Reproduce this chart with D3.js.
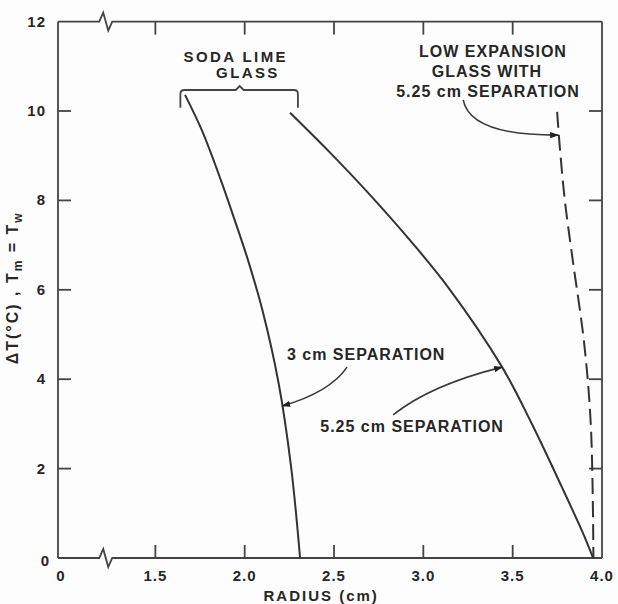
<!DOCTYPE html>
<html>
<head>
<meta charset="utf-8">
<script src="https://cdn.jsdelivr.net/npm/d3@7/dist/d3.min.js"></script>
<style>
  body { margin: 0; background: #fdfdfd; }
  svg text { font-family: "Liberation Sans", Arial, sans-serif; fill: #262626; }
</style>
</head>
<body>
<svg id="chart" width="618" height="604"></svg>
<script>
// Axis ticks
const radiusTicks = [1.5, 2.0, 2.5, 3.0, 3.5, 4.0];
const radiusTickLabels = ["1.5", "2.0", "2.5", "3.0", "3.5", "4.0"];
const deltaTicks = [2, 4, 6, 8, 10, 12];
const deltaTickLabels = ["2", "4", "6", "8", "10", "12"];

// Soda lime glass, 3 cm separation
const soda3Radius = [1.666, 1.760, 1.866, 1.944, 2.018, 2.099, 2.190, 2.260, 2.310];
const soda3Delta  = [10.36, 9.57, 8.46, 7.56, 6.67, 5.55, 3.91, 2.03, 0];

// Soda lime glass, 5.25 cm separation
const soda525Radius = [2.254, 2.475, 2.677, 2.925, 3.138, 3.441, 3.605, 3.775, 3.893, 3.950];
const soda525Delta  = [9.96, 9.08, 8.23, 7.11, 6.06, 4.27, 3.02, 1.59, 0.56, 0];

// Low expansion glass, 5.25 cm separation
const lowExpRadius = [3.749, 3.762, 3.792, 3.836, 3.900, 3.938, 3.952];
const lowExpDelta  = [9.98, 9.28, 8.0, 6.67, 4.81, 2.93, 0];

const svg = d3.select("#chart");
const ink = "#333";

// The radius axis is broken between 0 and 1.5
const x = d3.scaleLinear().domain([0.955, 4.0]).range([58, 602]);
const y = d3.scaleLinear().domain([0, 12]).range([558, 21.6]);
const L = x.range()[0], R = x.range()[1], T = y(12), B = y(0);
const xb = x(1.225);

const defs = svg.append("defs");
defs.append("marker")
  .attr("id", "head")
  .attr("viewBox", "0 0 10 10")
  .attr("refX", 9).attr("refY", 5)
  .attr("markerWidth", 9).attr("markerHeight", 9)
  .attr("markerUnits", "userSpaceOnUse")
  .attr("orient", "auto")
  .append("path").attr("d", "M0,1.5 L10,5 L0,8.5 Z").attr("fill", "#222");

// Frame with break marks on top and bottom edges
const frame = svg.append("g").attr("fill", "none").attr("stroke", "#444").attr("stroke-width", 1.8);
function brokenEdge(yy) {
  return `M${L},${yy} H${xb - 7} L${xb - 3},${yy - 9} L${xb + 2},${yy + 9} L${xb + 6},${yy} H${R}`;
}
frame.append("path").attr("d", brokenEdge(T));
frame.append("path").attr("d", brokenEdge(B));
frame.append("line").attr("x1", L).attr("x2", L).attr("y1", T).attr("y2", B);
frame.append("line").attr("x1", R).attr("x2", R).attr("y1", T).attr("y2", B);

// Inward tick marks on all four sides
const tickLen = 13;
const innerR = radiusTicks.slice(0, -1);
const innerD = deltaTicks.slice(0, -1);
frame.selectAll(".tb").data(innerR).join("line")
  .attr("x1", d => x(d)).attr("x2", d => x(d)).attr("y1", B).attr("y2", B - tickLen);
frame.selectAll(".tt").data(innerR).join("line")
  .attr("x1", d => x(d)).attr("x2", d => x(d)).attr("y1", T).attr("y2", T + tickLen);
frame.selectAll(".tl").data(innerD).join("line")
  .attr("x1", L).attr("x2", L + tickLen).attr("y1", d => y(d)).attr("y2", d => y(d));
frame.selectAll(".tr").data(innerD).join("line")
  .attr("x1", R).attr("x2", R - tickLen).attr("y1", d => y(d)).attr("y2", d => y(d));

// Tick labels
const labels = svg.append("g").attr("font-size", 15).attr("font-weight", "bold").attr("letter-spacing", 1);
labels.selectAll(".xl").data(radiusTicks).join("text")
  .attr("x", d => x(d)).attr("y", B + 23).attr("text-anchor", "middle")
  .text((d, i) => radiusTickLabels[i]);
labels.append("text").attr("x", L + 3).attr("y", B + 23).attr("text-anchor", "middle").text("0");
labels.selectAll(".yl").data(deltaTicks).join("text")
  .attr("x", L - 12).attr("y", d => y(d) + 5).attr("text-anchor", "end")
  .text((d, i) => deltaTickLabels[i]);
labels.append("text").attr("x", L - 8).attr("y", B + 8).attr("text-anchor", "end").text("0");

// Axis titles
svg.append("text")
  .attr("x", x(2.428)).attr("y", 601)
  .attr("text-anchor", "middle").attr("font-size", 15).attr("font-weight", "bold").attr("letter-spacing", 2)
  .text("RADIUS (cm)");

const yt = svg.append("text")
  .attr("transform", `translate(18,${y(6) - 2}) rotate(-90)`)
  .attr("text-anchor", "middle").attr("font-size", 16).attr("font-weight", "bold").attr("letter-spacing", 2);
yt.append("tspan").text("\u0394T(\u00b0C) , T");
yt.append("tspan").attr("dy", 4).attr("font-size", 12).text("m");
yt.append("tspan").attr("dy", -4).text(" = T");
yt.append("tspan").attr("dy", 4).attr("font-size", 12).text("w");

// Curves
const line = d3.line().x(d => x(d[0])).y(d => y(d[1])).curve(d3.curveCatmullRom.alpha(0.5));
const zip = (a, b) => a.map((v, i) => [v, b[i]]);
const curves = svg.append("g").attr("fill", "none").attr("stroke", ink).attr("stroke-width", 2);
curves.append("path").attr("d", line(zip(soda3Radius, soda3Delta)));
curves.append("path").attr("d", line(zip(soda525Radius, soda525Delta)));
curves.append("path").attr("d", line(zip(lowExpRadius, lowExpDelta)))
  .attr("stroke-dasharray", "16,7");

// Bracket grouping the soda lime curves
const bl = x(1.64), br = x(2.298), bm = x(1.972), by = y(10.47), bEnd = y(10.07);
svg.append("path")
  .attr("d", `M${bl},${bEnd} V${by + 4} Q${bl},${by} ${bl + 4},${by} H${bm - 4} L${bm},${by - 4} L${bm + 4},${by} H${br - 4} Q${br},${by} ${br},${by + 4} V${bEnd}`)
  .attr("fill", "none").attr("stroke", "#444").attr("stroke-width", 1.8);

// Annotation text
const note = svg.append("g").attr("font-weight", "bold").attr("text-anchor", "middle");
function addNote(lines, cx, baselines, size, spacing) {
  lines.forEach((t, i) => {
    note.append("text").attr("x", x(cx[i])).attr("y", y(baselines[i]))
      .attr("font-size", size).attr("letter-spacing", spacing).text(t);
  });
}
addNote(["SODA LIME", "GLASS"], [1.950, 2.018], [11.09, 10.74], 15, 2.4);
addNote(["LOW EXPANSION", "GLASS WITH", "5.25 cm SEPARATION"], [3.390, 3.356, 3.362], [11.21, 10.76, 10.31], 16, 1);
addNote(["3 cm SEPARATION"], [2.680], [4.44], 16, 1);
addNote(["5.25 cm SEPARATION"], [2.937], [2.82], 16, 1);

// Leader arrows
const arrows = svg.append("g").attr("fill", "none").attr("stroke", "#3a3a3a").attr("stroke-width", 1.6)
  .attr("marker-end", "url(#head)");
function arrow(p0, c, p1) {
  arrows.append("path").attr("d", `M${x(p0[0])},${y(p0[1])} Q${x(c[0])},${y(c[1])} ${x(p1[0])},${y(p1[1])}`);
}
arrow([3.223, 10.25], [3.262, 9.45], [3.755, 9.46]);
arrow([2.573, 4.27], [2.478, 3.71], [2.210, 3.40]);
arrow([2.831, 3.20], [3.038, 3.87], [3.441, 4.27]);
</script>
</body>
</html>
